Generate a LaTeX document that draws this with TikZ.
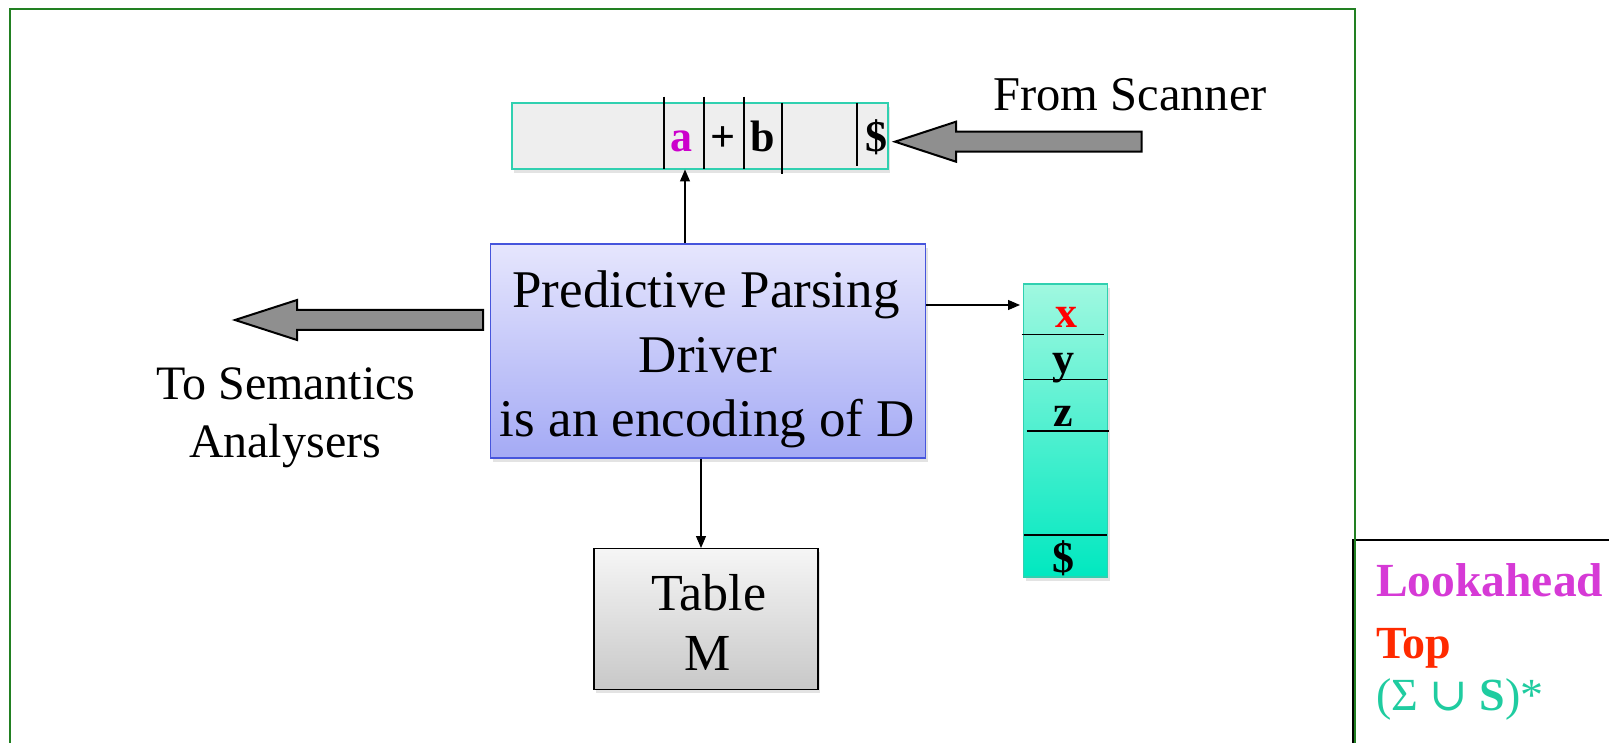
\documentclass[tikz,border=0pt]{standalone}
\usepackage{fontspec}
\setmainfont{Liberation Serif}
\newfontfamily\djv{DejaVu Serif}
\usetikzlibrary{arrows.meta,shadows,calc}
\definecolor{framegreen}{RGB}{34,128,34}
\definecolor{tealborder}{RGB}{48,208,176}
\definecolor{tapefill}{RGB}{238,238,238}
\definecolor{drvtop}{RGB}{230,230,253}
\definecolor{drvbot}{RGB}{164,170,245}
\definecolor{drvborder}{RGB}{70,85,220}
\definecolor{stktop}{RGB}{160,248,224}
\definecolor{stkbot}{RGB}{0,232,192}
\definecolor{tbltop}{RGB}{246,246,246}
\definecolor{tblbot}{RGB}{200,200,200}
\definecolor{arrgray}{RGB}{143,143,143}
\definecolor{lookmag}{RGB}{214,58,214}
\definecolor{topred}{RGB}{255,42,0}
\definecolor{sigteal}{RGB}{31,204,160}
\definecolor{amag}{RGB}{204,0,204}
\begin{document}
\begin{tikzpicture}[x=1pt,y=-1pt,
  shd/.style={drop shadow={opacity=0.22,shadow xshift=2pt,shadow yshift=-4pt}},
  tapebox/.style={draw=tealborder,line width=2pt,fill=tapefill,minimum width=376pt,minimum height=66pt,inner sep=0pt,shd},
  drvbox/.style={draw=drvborder,line width=1.5pt,top color=drvtop,bottom color=drvbot,minimum width=435pt,minimum height=214pt,inner sep=0pt,shd},
  tblbox/.style={draw=black,line width=1.5pt,top color=tbltop,bottom color=tblbot,minimum width=224pt,minimum height=141pt,inner sep=0pt,shd},
  stkbox/.style={draw=tealborder,line width=1.5pt,top color=stktop,bottom color=stkbot,minimum width=84pt,minimum height=293pt,inner sep=0pt,shd},
  bigtxt/.style={font=\fontsize{53}{64}\selectfont,inner sep=0pt,anchor=base},
  tbltxt/.style={font=\fontsize{52}{55}\selectfont,inner sep=0pt,anchor=base},
  lbltxt/.style={font=\fontsize{48}{50}\selectfont,inner sep=0pt,anchor=base},
  symtxt/.style={font=\fontsize{44}{45}\selectfont\bfseries,inner sep=0pt,anchor=base},
  legtxt/.style={font=\fontsize{46}{50}\selectfont,inner sep=0pt,anchor=base west},
  divider/.style={line width=1.3pt,black},
  arr/.style={line width=1.2pt,-{Triangle[length=12pt,width=10pt]}},
  blockarrow/.style={draw=black,line width=2pt,fill=arrgray,line join=miter}
]
\useasboundingbox (0,0) rectangle (1609,743);
\clip (0,0) rectangle (1609,743);
\fill[white] (0,0) rectangle (1609,743);

% legend box and frame
\draw[black,line width=2pt] (1352.5,760) -- (1352.5,540) -- (1620,540);
\draw[framegreen,line width=1.5pt] (10,760) -- (10,9) -- (1355,9) -- (1355,760);

% tape
\node[tapebox] (tape) at (699.7,135.9) {};
\draw[divider] (664,96.7) -- (664,169);
\draw[divider] (704,96.7) -- (704,169);
\draw[divider] (744,96.7) -- (744,169);
\draw[divider] (782,103) -- (782,174);
\draw[divider] (857,102.7) -- (857,166);
\node[symtxt,text=amag] (ta) at (681.7,152) {a};
\node[symtxt] (tplus) at (723,152) {+};
\node[symtxt] (tb) at (763,152) {b};
\node[symtxt] (tdollar) at (876.7,152) {\$};

% from scanner
\node[lbltxt,font=\fontsize{48.5}{50}\selectfont] (scan) at (1130,111) {From Scanner};
\coordinate (scantip) at (895,141.7);
\draw[blockarrow] (scantip) -- (956,121.7) -- (956,131.7) -- (1141.7,131.7) -- (1141.7,151.7) -- (956,151.7) -- (956,161.7) -- cycle;

% driver
\node[drvbox] (driver) at (708.2,350.9) {};
\node[bigtxt] (d1) at (706,308) {Predictive Parsing};
\node[bigtxt] (d2) at (708,372) {Driver};
\node[bigtxt] (d3) at (707.5,436) {is an encoding of D};

% semantics arrow
\coordinate (semtip) at (235,320);
\draw[blockarrow] (semtip) -- (297,300) -- (297,310) -- (483,310) -- (483,330) -- (297,330) -- (297,340) -- cycle;
\node[lbltxt] (sem1) at (286,399) {To Semantics};
\node[lbltxt] (sem2) at (285,457) {Analysers};

% stack
\node[stkbox] (stack) at (1065.5,430.4) {};
\draw[divider] (1021.7,334.3) -- (1104.3,334.3);
\draw[divider] (1024.3,379.3) -- (1106.7,379.3);
\draw[divider] (1026.7,431) -- (1109.3,431);
\draw[divider] (1024.3,535) -- (1107,535);
\node[symtxt,text=red] (sx) at (1066.7,327) {x};
\node[symtxt] (sy) at (1063,373) {y};
\node[symtxt] (sz) at (1063,426) {z};
\node[symtxt] (sd) at (1063,572) {\$};

% table
\node[tblbox] (table) at (706.2,618.8) {};
\node[tbltxt] (t1) at (709,610) {Table};
\node[tbltxt] (t2) at (707.5,670) {M};

% connectors
\coordinate (tapein) at (685,169.5);
\coordinate (stackin) at (1020,305);
\coordinate (tablein) at (701,548);
\draw[arr] (driver.north -| tapein) -- (tapein);
\draw[arr] (driver.east |- stackin) -- (stackin);
\draw[arr] (driver.south -| tablein) -- (tablein);

% legend text
\node[legtxt,text=lookmag,font=\fontsize{47.5}{50}\selectfont\bfseries] (lk) at (1376,596) {Lookahead};
\node[legtxt,text=topred,font=\fontsize{46}{50}\selectfont\bfseries] (tp) at (1376,658) {Top};
\node[legtxt,text=sigteal] (sg) at (1376,710) {(Σ {\djv ∪} \textbf{S})*};
\end{tikzpicture}
\end{document}
